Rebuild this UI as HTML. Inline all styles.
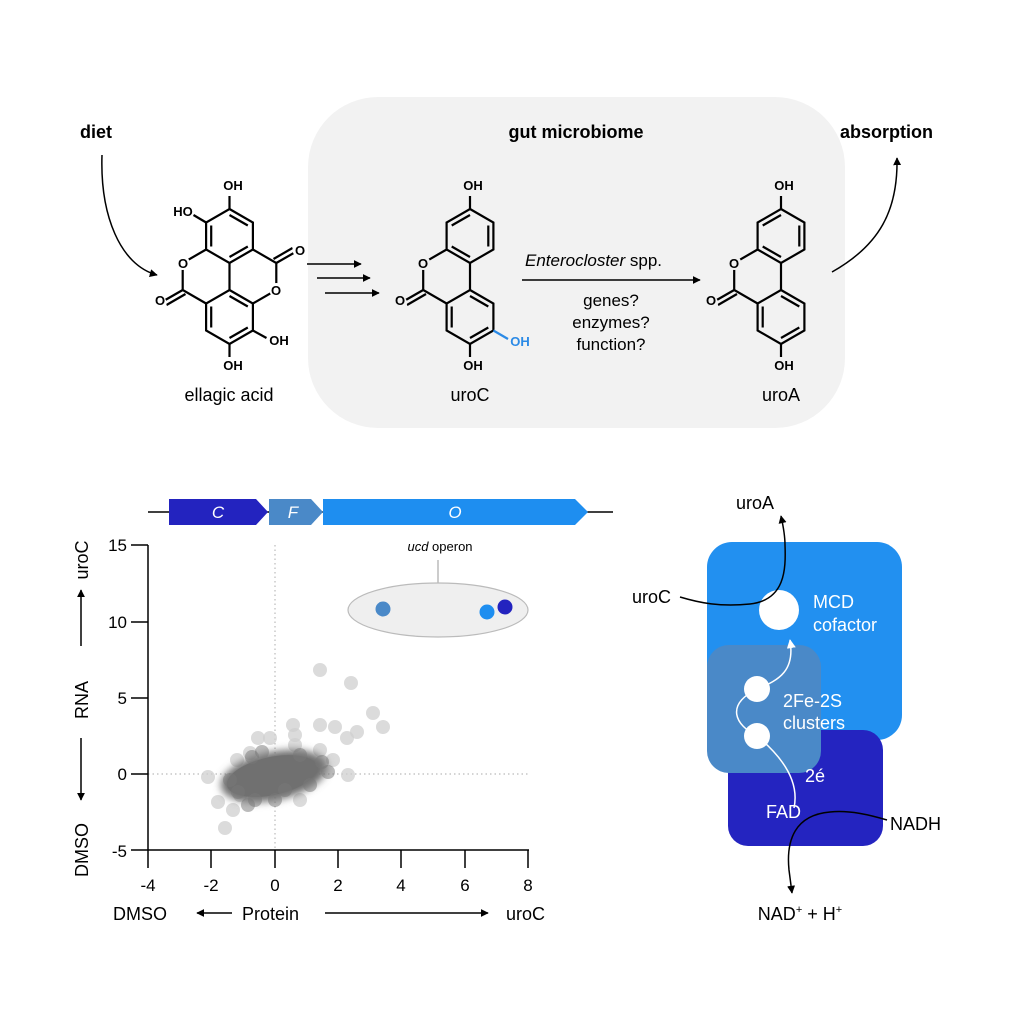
<!DOCTYPE html>
<html><head><meta charset="utf-8"><style>
html,body{margin:0;padding:0;background:#fff;}
svg{display:block;font-family:"Liberation Sans",Arial,sans-serif;}
</style></head><body>
<svg width="1024" height="1024" viewBox="0 0 1024 1024" xmlns="http://www.w3.org/2000/svg">
<defs>
<marker id="ah" viewBox="0 0 10 10" refX="9" refY="5" markerWidth="8" markerHeight="8" markerUnits="userSpaceOnUse" orient="auto"><path d="M0,0 L10,5 L0,10 z" fill="#000"/></marker>
<marker id="ahw" viewBox="0 0 10 10" refX="9" refY="5" markerWidth="9" markerHeight="9" markerUnits="userSpaceOnUse" orient="auto"><path d="M0,0 L10,5 L0,10 z" fill="#fff"/></marker>
<filter id="bl" x="-30%" y="-50%" width="160%" height="200%"><feGaussianBlur stdDeviation="4"/></filter>
</defs>

<rect x="308" y="97" width="537" height="331" rx="70" fill="#f2f2f2"/>
<g font-size="18" font-weight="bold">
<text x="80" y="138">diet</text>
<text x="576" y="138" text-anchor="middle">gut microbiome</text>
<text x="840" y="138">absorption</text>
</g>
<path d="M102,155 C100,215 120,265 157,275" fill="none" stroke="#000" stroke-width="1.5" marker-end="url(#ah)"/>
<path d="M832,272 C880,245 898,210 897,158" fill="none" stroke="#000" stroke-width="1.5" marker-end="url(#ah)"/>

<g transform="translate(229.5,236)" stroke="#000" stroke-width="2.2" fill="none">
<polygon points="0,-27 23.4,-13.5 23.4,13.5 0,27 -23.4,13.5 -23.4,-13.5"/>
<polygon points="0,54 23.4,67.5 23.4,94.5 0,108 -23.4,94.5 -23.4,67.5"/>
<line x1="0" y1="-21" x2="18.3" y2="-10.5"/><line x1="18.3" y1="10.5" x2="0" y2="21"/><line x1="-18.3" y1="10.5" x2="-18.3" y2="-10.5"/>
<line x1="0" y1="60" x2="18.3" y2="70.5"/><line x1="18.3" y1="91.5" x2="0" y2="102"/><line x1="-18.3" y1="91.5" x2="-18.3" y2="70.5"/>
<line x1="0" y1="27" x2="0" y2="54"/>
<polyline points="-23.4,13.5 -46.8,27 -46.8,54 -23.4,67.5"/>
<line x1="-46.8" y1="54" x2="-66" y2="65"/><line x1="-44" y1="58" x2="-63" y2="69"/>
<polyline points="23.4,13.5 46.8,27 46.8,54 23.4,67.5"/>
<line x1="46.8" y1="27" x2="66" y2="16"/><line x1="44" y1="23" x2="63" y2="12"/>
<line x1="0" y1="-27" x2="0" y2="-40"/>
<line x1="-23.4" y1="-13.5" x2="-36" y2="-21"/>
<line x1="0" y1="108" x2="0" y2="121"/>
<line x1="23.4" y1="94.5" x2="37" y2="102"/>
<circle cx="-46.8" cy="27" r="7" fill="#fff" stroke="none"/>
<circle cx="46.8" cy="54" r="7" fill="#fff" stroke="none"/>
<circle cx="-70" cy="67" r="7" fill="#fff" stroke="none"/>
<circle cx="70" cy="14" r="7" fill="#fff" stroke="none"/>
</g>
<g font-size="13" font-weight="bold" text-anchor="middle">
<text x="183" y="268">O</text><text x="276" y="295">O</text>
<text x="160" y="305">O</text><text x="300" y="255">O</text>
<text x="233" y="190">OH</text><text x="183" y="216">HO</text>
<text x="233" y="370">OH</text><text x="279" y="345">OH</text>
</g>
<text x="229" y="401" font-size="18" text-anchor="middle">ellagic acid</text>

<g stroke="#000" stroke-width="1.5" marker-end="url(#ah)">
<line x1="307" y1="264" x2="361" y2="264"/>
<line x1="317" y1="278" x2="370" y2="278"/>
<line x1="325" y1="293" x2="379" y2="293"/>
</g>

<g transform="translate(470,236)" stroke="#000" stroke-width="2.2" fill="none">
<polygon points="0,-27 23.4,-13.5 23.4,13.5 0,27 -23.4,13.5 -23.4,-13.5"/>
<polygon points="0,54 23.4,67.5 23.4,94.5 0,108 -23.4,94.5 -23.4,67.5"/>
<line x1="18.3" y1="-10.5" x2="18.3" y2="10.5"/><line x1="0" y1="-21" x2="-18.3" y2="-10.5"/><line x1="0" y1="21" x2="-18.3" y2="10.5" />
<line x1="0" y1="60" x2="18.3" y2="70.5"/><line x1="18.3" y1="91.5" x2="0" y2="102"/><line x1="-18.3" y1="91.5" x2="-18.3" y2="70.5"/>
<line x1="0" y1="27" x2="0" y2="54"/>
<polyline points="-23.4,13.5 -46.8,27 -46.8,54 -23.4,67.5"/>
<line x1="-46.8" y1="54" x2="-66" y2="65"/><line x1="-44" y1="58" x2="-63" y2="69"/>
<line x1="0" y1="-27" x2="0" y2="-40"/>
<line x1="0" y1="108" x2="0" y2="121"/>
<line x1="23.4" y1="94.5" x2="38" y2="103" stroke="#2b8ae6"/>
<circle cx="-46.8" cy="27" r="7" fill="#f2f2f2" stroke="none"/>
<circle cx="-70" cy="67" r="7" fill="#f2f2f2" stroke="none"/>
</g>
<g font-size="13" font-weight="bold" text-anchor="middle">
<text x="423" y="268">O</text><text x="400" y="305">O</text>
<text x="473" y="190">OH</text><text x="473" y="370">OH</text>
<text x="520" y="346" fill="#2b8ae6">OH</text>
</g>
<text x="470" y="401" font-size="18" text-anchor="middle">uroC</text>

<text x="525" y="266" font-size="17"><tspan font-style="italic">Enterocloster</tspan> spp.</text>
<line x1="522" y1="280" x2="700" y2="280" stroke="#000" stroke-width="1.5" marker-end="url(#ah)"/>
<g font-size="17" text-anchor="middle">
<text x="611" y="306">genes?</text>
<text x="611" y="328">enzymes?</text>
<text x="611" y="350">function?</text>
</g>

<g transform="translate(781,236)" stroke="#000" stroke-width="2.2" fill="none">
<polygon points="0,-27 23.4,-13.5 23.4,13.5 0,27 -23.4,13.5 -23.4,-13.5"/>
<polygon points="0,54 23.4,67.5 23.4,94.5 0,108 -23.4,94.5 -23.4,67.5"/>
<line x1="18.3" y1="-10.5" x2="18.3" y2="10.5"/><line x1="0" y1="-21" x2="-18.3" y2="-10.5"/><line x1="0" y1="21" x2="-18.3" y2="10.5" />
<line x1="0" y1="60" x2="18.3" y2="70.5"/><line x1="18.3" y1="91.5" x2="0" y2="102"/><line x1="-18.3" y1="91.5" x2="-18.3" y2="70.5"/>
<line x1="0" y1="27" x2="0" y2="54"/>
<polyline points="-23.4,13.5 -46.8,27 -46.8,54 -23.4,67.5"/>
<line x1="-46.8" y1="54" x2="-66" y2="65"/><line x1="-44" y1="58" x2="-63" y2="69"/>
<line x1="0" y1="-27" x2="0" y2="-40"/>
<line x1="0" y1="108" x2="0" y2="121"/>
<circle cx="-46.8" cy="27" r="7" fill="#f2f2f2" stroke="none"/>
<circle cx="-70" cy="67" r="7" fill="#f2f2f2" stroke="none"/>
</g>
<g font-size="13" font-weight="bold" text-anchor="middle">
<text x="734" y="268">O</text><text x="711" y="305">O</text>
<text x="784" y="190">OH</text><text x="784" y="370">OH</text>
</g>
<text x="781" y="401" font-size="18" text-anchor="middle">uroA</text>

<line x1="148" y1="512" x2="613" y2="512" stroke="#000" stroke-width="1.5"/>
<polygon points="169,499 256,499 268,512 256,525 169,525" fill="#2323bf"/>
<polygon points="269,499 311,499 323,512 311,525 269,525" fill="#4a89c8"/>
<polygon points="323,499 575,499 588,512 575,525 323,525" fill="#1e8ef0"/>
<g fill="#fff" font-size="17" font-style="italic" text-anchor="middle">
<text x="218" y="518">C</text><text x="293" y="518">F</text><text x="455" y="518">O</text>
</g>

<line x1="275" y1="545" x2="275" y2="850" stroke="#bbb" stroke-width="1.2" stroke-dasharray="1.5,3"/>
<line x1="148" y1="774" x2="528" y2="774" stroke="#bbb" stroke-width="1.2" stroke-dasharray="1.5,3"/>
<text x="440" y="551" font-size="13" text-anchor="middle"><tspan font-style="italic">ucd</tspan> operon</text>
<line x1="438" y1="560" x2="438" y2="583" stroke="#999" stroke-width="1"/>
<ellipse cx="438" cy="610" rx="90" ry="27" fill="#efefef" stroke="#bbb" stroke-width="1.2"/>
<circle cx="383" cy="609" r="7.5" fill="#4a89c8"/>
<circle cx="487" cy="612" r="7.5" fill="#1e8ef0"/>
<circle cx="505" cy="607" r="7.5" fill="#2323bf"/>

<g fill="#cfcfcf" fill-opacity="0.75">
<circle cx="320" cy="670" r="7"/><circle cx="351" cy="683" r="7"/><circle cx="373" cy="713" r="7"/>
<circle cx="383" cy="727" r="7"/><circle cx="320" cy="725" r="7"/><circle cx="335" cy="727" r="7"/>
<circle cx="347" cy="738" r="7"/><circle cx="357" cy="732" r="7"/><circle cx="293" cy="725" r="7"/>
<circle cx="258" cy="738" r="7"/><circle cx="270" cy="738" r="7"/><circle cx="208" cy="777" r="7"/>
<circle cx="218" cy="802" r="7"/><circle cx="225" cy="828" r="7"/><circle cx="233" cy="810" r="7"/>
<circle cx="348" cy="775" r="7"/><circle cx="333" cy="760" r="7"/><circle cx="320" cy="750" r="7"/>
<circle cx="295" cy="735" r="7"/><circle cx="250" cy="753" r="7"/><circle cx="295" cy="745" r="7"/>
<circle cx="237" cy="760" r="7"/><circle cx="300" cy="800" r="7"/><circle cx="240" cy="795" r="7"/>
</g>
<g filter="url(#bl)">
<ellipse cx="274" cy="776" rx="54" ry="24" fill="#6e6e6e" transform="rotate(-12 274 776)"/>
</g>
<ellipse cx="272" cy="776" rx="46" ry="19" fill="#707070" transform="rotate(-12 272 776)"/>
<g fill="#777" fill-opacity="0.5">
<circle cx="230" cy="780" r="7"/><circle cx="238" cy="792" r="7"/><circle cx="255" cy="800" r="7"/>
<circle cx="322" cy="762" r="7"/><circle cx="328" cy="772" r="7"/><circle cx="300" cy="755" r="7"/>
<circle cx="262" cy="752" r="7"/><circle cx="285" cy="790" r="7"/><circle cx="310" cy="785" r="7"/>
<circle cx="248" cy="805" r="7"/><circle cx="275" cy="800" r="7"/><circle cx="252" cy="757" r="7"/>
</g>

<g stroke="#000" stroke-width="1.5">
<line x1="148" y1="545" x2="148" y2="850"/>
<line x1="131" y1="850" x2="529" y2="850"/>
<line x1="131" y1="545" x2="148" y2="545"/><line x1="131" y1="622" x2="148" y2="622"/>
<line x1="131" y1="698" x2="148" y2="698"/><line x1="131" y1="774" x2="148" y2="774"/>
<line x1="148" y1="850" x2="148" y2="868"/><line x1="211" y1="850" x2="211" y2="868"/>
<line x1="275" y1="850" x2="275" y2="868"/><line x1="338" y1="850" x2="338" y2="868"/>
<line x1="401" y1="850" x2="401" y2="868"/><line x1="465" y1="850" x2="465" y2="868"/>
<line x1="528" y1="850" x2="528" y2="868"/>
</g>
<g font-size="17" text-anchor="end">
<text x="127" y="551">15</text><text x="127" y="628">10</text><text x="127" y="704">5</text>
<text x="127" y="780">0</text><text x="127" y="857">-5</text>
</g>
<g font-size="17" text-anchor="middle">
<text x="148" y="891">-4</text><text x="211" y="891">-2</text><text x="275" y="891">0</text>
<text x="338" y="891">2</text><text x="401" y="891">4</text><text x="465" y="891">6</text>
<text x="528" y="891">8</text>
</g>
<g font-size="18" text-anchor="middle">
<text transform="translate(88,560) rotate(-90)">uroC</text>
<text transform="translate(88,700) rotate(-90)">RNA</text>
<text transform="translate(88,850) rotate(-90)">DMSO</text>
</g>
<g stroke="#000" stroke-width="1.5" marker-end="url(#ah)">
<line x1="81" y1="646" x2="81" y2="590"/>
<line x1="81" y1="738" x2="81" y2="800"/>
<line x1="232" y1="913" x2="197" y2="913"/>
<line x1="325" y1="913" x2="488" y2="913"/>
</g>
<g font-size="18">
<text x="113" y="920">DMSO</text>
<text x="242" y="920">Protein</text>
<text x="506" y="920">uroC</text>
</g>

<rect x="707" y="542" width="195" height="198" rx="25" fill="#2290f0"/>
<rect x="728" y="730" width="155" height="116" rx="20" fill="#2424c0"/>
<rect x="707" y="645" width="114" height="128" rx="22" fill="#4a89c8"/>
<circle cx="779" cy="610" r="20" fill="#fff"/>
<circle cx="757" cy="689" r="13" fill="#fff"/>
<circle cx="757" cy="736" r="13" fill="#fff"/>
<path d="M794,808 C800,780 780,755 757,736 C735,725 725,705 757,689 C780,680 795,670 790,640" fill="none" stroke="#fff" stroke-width="1.5" marker-end="url(#ahw)"/>
<g fill="#fff" font-size="18">
<text x="813" y="608">MCD</text><text x="813" y="631">cofactor</text>
<text x="783" y="707">2Fe-2S</text><text x="783" y="729">clusters</text>
<text x="805" y="782">2é</text><text x="766" y="818">FAD</text>
</g>
<path d="M680,597 C700,603 720,607 750,604 C785,600 786,570 785,545 C785,535 783,525 781,516" fill="none" stroke="#000" stroke-width="1.5" marker-end="url(#ah)"/>
<path d="M887,820 C870,815 850,810 830,812 C795,815 786,840 789,870 L792,893" fill="none" stroke="#000" stroke-width="1.5" marker-end="url(#ah)"/>
<g font-size="18">
<text x="755" y="509" text-anchor="middle">uroA</text>
<text x="632" y="603">uroC</text>
<text x="890" y="830">NADH</text>
<text x="800" y="920" text-anchor="middle">NAD<tspan font-size="11" dy="-7">+</tspan><tspan dy="7"> + H</tspan><tspan font-size="11" dy="-7">+</tspan></text>
</g>
</svg>
</body></html>
